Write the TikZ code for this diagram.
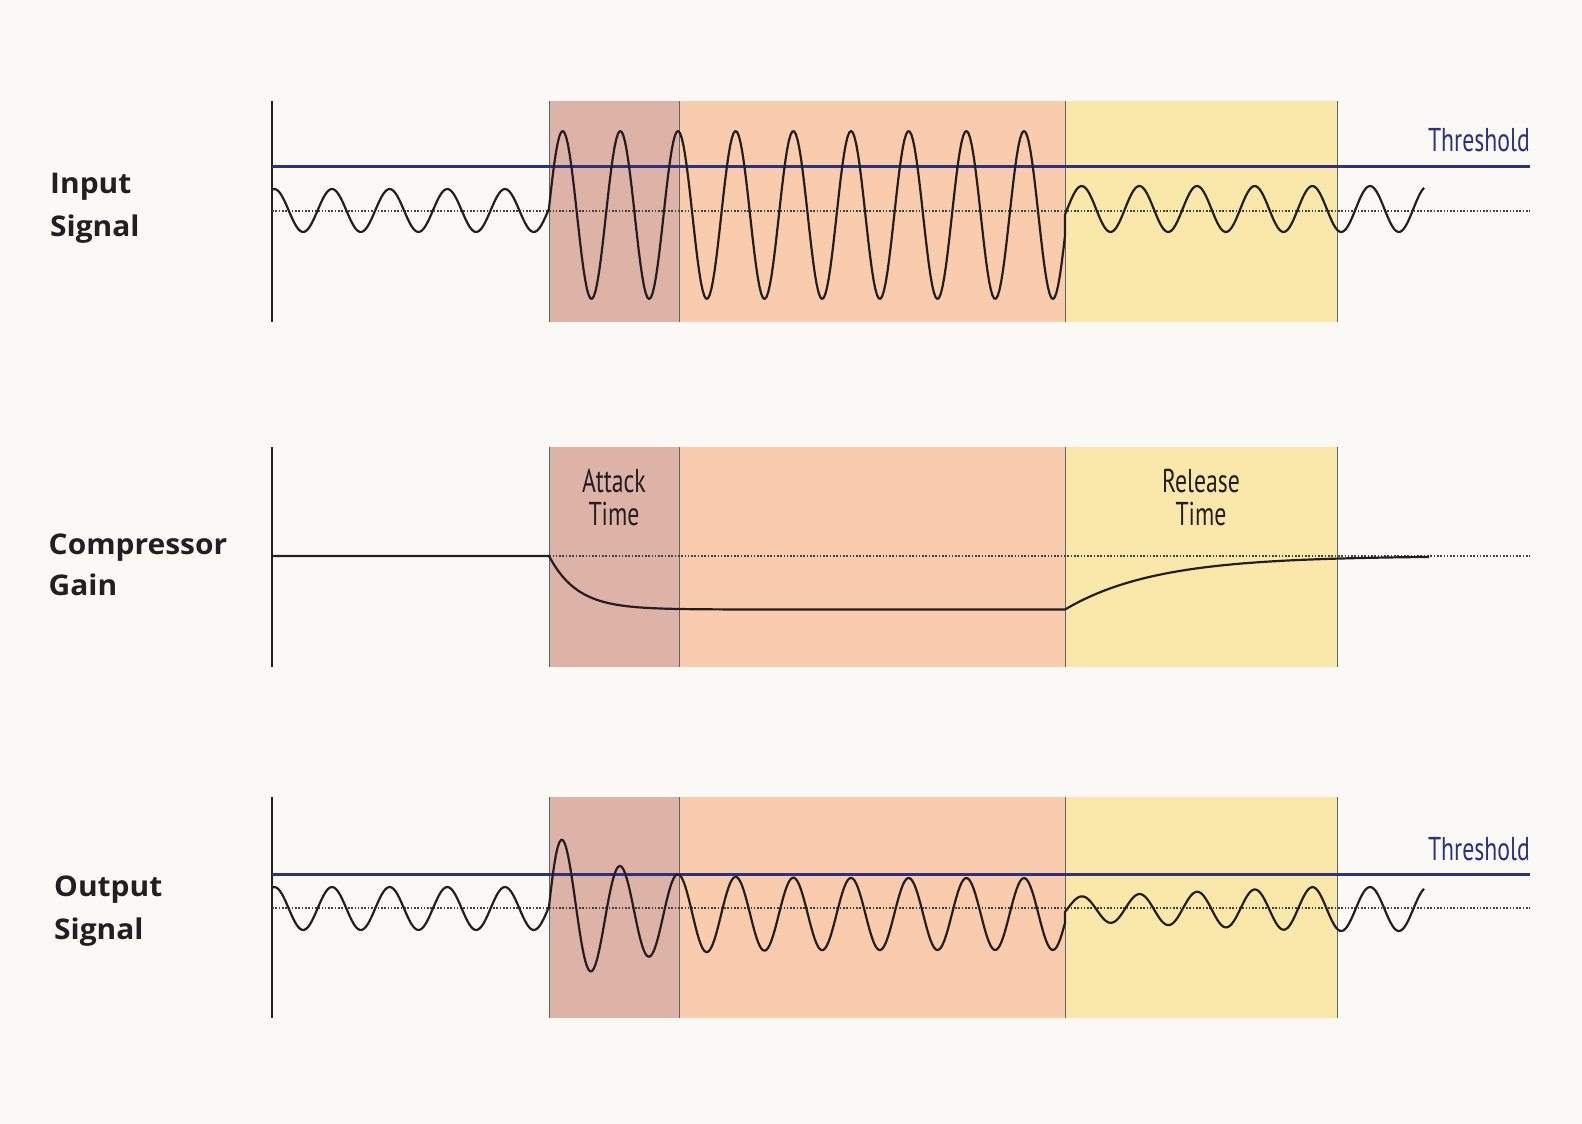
\documentclass[tikz,border=0pt]{standalone}
\usepackage{fontspec}
\usepackage{tikz}
\usetikzlibrary{positioning}
\setmainfont{Open Sans}
\newfontfamily\sidefont[FakeStretch=1.05]{Open Sans}
\newfontfamily\narrowfont[FakeStretch=0.72]{PT Sans}
\definecolor{paper}{HTML}{FAF9F5}
\definecolor{attackc}{HTML}{DDB2A7}
\definecolor{holdc}{HTML}{F8CCAD}
\definecolor{releasec}{HTML}{FAE7AA}
\definecolor{navy}{HTML}{2E3080}
\definecolor{ink}{HTML}{231F20}
\tikzset{
	signal/.style={ink, line width=2.2pt, line join=round},
	threshold/.style={navy, line width=3pt},
	zeroline/.style={ink!85, line width=1.5pt, dash pattern=on 1.6pt off 1.7pt},
	edgeline/.style={ink!70, line width=1pt},
	axisline/.style={ink, line width=1.4pt},
	sidetext/.style={anchor=base west, text=ink, inner sep=0pt, font=\sidefont\fontsize{28.5}{32}\selectfont\bfseries},
	phasetext/.style={anchor=base, text=ink, inner sep=0pt, font=\narrowfont\fontsize{33}{36}\selectfont},
	thrtext/.style={anchor=base east, text=navy, inner sep=0pt, font=\narrowfont\fontsize{33}{36}\selectfont},
}

\begin{document}
\begin{tikzpicture}[x=1pt, y=-1pt]
	\fill[paper] (0,0) rectangle (1582,1124);
	\useasboundingbox (0,0) rectangle (1582,1124);

	% the three panels: attack, hold, release
	\foreach \t/\b/\z in {101/322/211, 447/667/556, 797/1018/908} {
		\fill[attackc] (549,\t) rectangle (679,\b);
		\fill[holdc] (679,\t) rectangle (1065,\b);
		\fill[releasec] (1065,\t) rectangle (1337,\b);
		\foreach \e in {549,679,1065,1337}
			\draw[edgeline] (\e,\t) -- (\e,\b);
		\draw[axisline] (272,\t) -- (272,\b);
		\draw[zeroline] (272,\z) -- (1530,\z);
	}

	% thresholds
	\draw[threshold] (272,166) -- (1530,166);
	\draw[threshold] (272,874) -- (1530,874);
	\node[thrtext] (thrin) at (1530,151.5) {Threshold};
	\node[thrtext] (throut) at (1530,860) {Threshold};

	% input signal
	\draw[signal] plot[domain=272:549, samples=140] (\x, {210.5-21.5*cos(6.2424*(\x-274.3))})
		-- plot[domain=549:1065, samples=300] (\x, {215-84*cos(6.2424*(\x-274.3))})
		-- plot[domain=1065:1424, samples=180] (\x, {209-23*cos(6.2424*(\x-274.3))});

	% compressor gain
	\draw[signal] (272,556) -- (549,556)
		-- plot[domain=549:1065, samples=120] (\x, {609.5-53.5*exp(-(\x-549)/28)})
		-- plot[domain=1065:1429, samples=120] (\x, {556+53.5*exp(-(\x-1065)/90)});

	% output signal
	\draw[signal] plot[domain=272:549, samples=140] (\x, {908.5-21.5*cos(6.2424*(\x-274.3))})
		-- plot[domain=549:1065, samples=300] (\x, {914-(36+50*exp(-(\x-549)/50))*cos(6.2424*(\x-274.3))})
		-- plot[domain=1065:1424, samples=180] (\x, {909-min(22,12+10*(\x-1065)/250)*cos(6.2424*(\x-274.3))});

	% labels
	\node[sidetext] (in1) at (50,193) {Input};
	\node[sidetext] (in2) at (50,236) {Signal};
	\node[sidetext] (gain1) at (48.5,554) {Compressor};
	\node[sidetext] (gain2) at (48.5,595) {Gain};
	\node[sidetext] (out1) at (54,896.5) {Output};
	\node[sidetext] (out2) at (54,939) {Signal};

	\node[phasetext] (att1) at (614,492.5) {Attack};
	\node[phasetext] (att2) at (614,525) {Time};
	\node[phasetext] (rel1) at (1201,492.5) {Release};
	\node[phasetext] (rel2) at (1201,525) {Time};
\end{tikzpicture}
\end{document}
